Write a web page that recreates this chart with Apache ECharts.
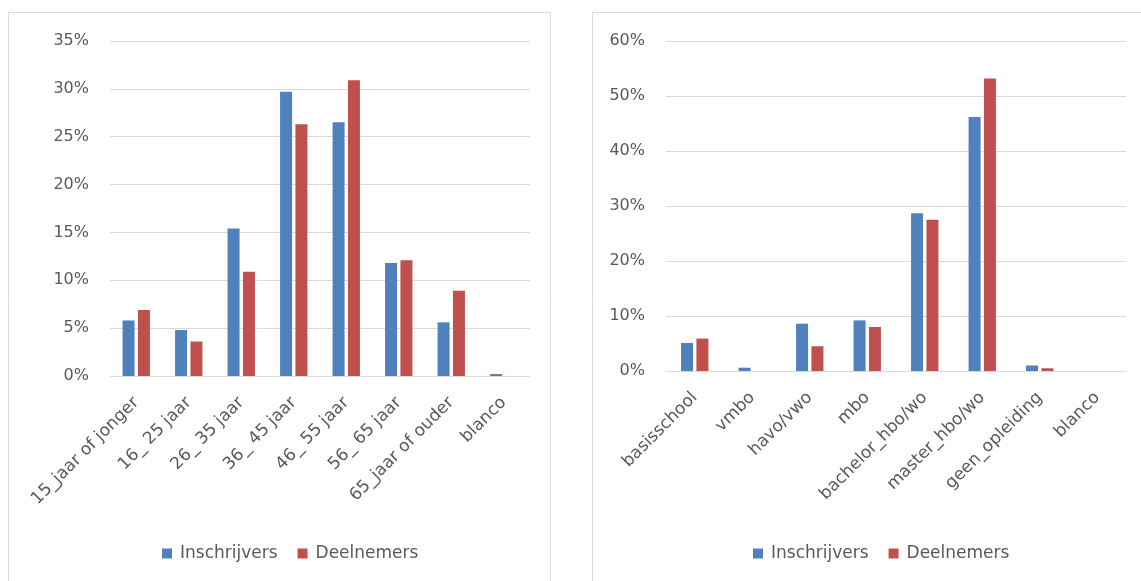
<!DOCTYPE html>
<html>
<head>
<meta charset="utf-8">
<script src="https://cdn.jsdelivr.net/npm/echarts@6/dist/echarts.min.js"></script>
<style>
html,body{margin:0;padding:0;background:#fff;}
#c{width:1141px;height:581px;}
</style>
</head>
<body>
<div id="c"></div>
<script>
// ---- data ----
const ageCategories = ['15_jaar of jonger','16_ 25 jaar','26_ 35 jaar','36_ 45 jaar','46_ 55 jaar','56_ 65 jaar','65_jaar of ouder','blanco'];
const ageInschrijvers = [5.8, 4.8, 15.4, 29.7, 26.5, 11.8, 5.6, 0.2];
const ageDeelnemers   = [6.9, 3.6, 10.9, 26.3, 30.9, 12.1, 8.9, 0];
const eduCategories = ['basisschool','vmbo','havo/vwo','mbo','bachelor_hbo/wo','master_hbo/wo','geen_opleiding','blanco'];
const eduInschrijvers = [5.1, 0.6, 8.6, 9.2, 28.7, 46.2, 1.0, 0];
const eduDeelnemers   = [5.9, 0, 4.5, 8.0, 27.5, 53.2, 0.5, 0];
const ageTicks = [0, 5, 10, 15, 20, 25, 30, 35];
const eduTicks = [0, 10, 20, 30, 40, 50, 60];
const seriesNames = ['Inschrijvers', 'Deelnemers'];

const BLUE = '#4F81BD', RED = '#C0504D';
const FONT = 'DejaVu Sans';
const TXT = '#595959';
const GRID = '#D9D9D9';

const chart = echarts.init(document.getElementById('c'), null, {renderer: 'canvas'});

function yAxis(gridIndex, ticks) {
  return {
    type: 'value', gridIndex: gridIndex,
    min: ticks[0], max: ticks[ticks.length - 1], interval: ticks[1] - ticks[0],
    axisLabel: {formatter: '{value}%', color: TXT, fontFamily: FONT, fontSize: 16, margin: 21},
    axisLine: {show: false}, axisTick: {show: false},
    splitLine: {lineStyle: {color: GRID, width: 1}}
  };
}
function xAxis(gridIndex, cats) {
  return {
    type: 'category', gridIndex: gridIndex, data: cats,
    axisLabel: {rotate: 45, color: TXT, fontFamily: FONT, fontSize: 17, margin: 24, interval: 0},
    axisLine: {lineStyle: {color: GRID}}, axisTick: {show: false}
  };
}
function bar(name, xi, data, color) {
  return {
    name: name, type: 'bar', xAxisIndex: xi, yAxisIndex: xi, data: data,
    barWidth: 12, barGap: '28%', itemStyle: {color: color}, animation: false
  };
}
function legend(left) {
  return {data: seriesNames, left: left, top: 540, icon: 'rect', itemWidth: 10, itemHeight: 10, itemGap: 20,
    textStyle: {color: TXT, fontFamily: FONT, fontSize: 17, padding: [0, 0, 0, 3]}};
}

chart.setOption({
  backgroundColor: '#fff',
  animation: false,
  graphic: [
    {type: 'rect', shape: {x: 8.5, y: 12.5, width: 542, height: 600}, style: {fill: 'none', stroke: GRID, lineWidth: 1}, silent: true, z: -10},
    {type: 'rect', shape: {x: 592.5, y: 12.5, width: 600, height: 600}, style: {fill: 'none', stroke: GRID, lineWidth: 1}, silent: true, z: -10}
  ],
  grid: [
    {left: 110, right: 611, top: 41, bottom: 205},
    {left: 666, right: 15, top: 41, bottom: 210}
  ],
  legend: [legend(157), legend(748)],
  xAxis: [xAxis(0, ageCategories), xAxis(1, eduCategories)],
  yAxis: [yAxis(0, ageTicks), yAxis(1, eduTicks)],
  series: [
    bar(seriesNames[0], 0, ageInschrijvers, BLUE),
    bar(seriesNames[1], 0, ageDeelnemers, RED),
    bar(seriesNames[0], 1, eduInschrijvers, BLUE),
    bar(seriesNames[1], 1, eduDeelnemers, RED)
  ]
});
</script>
</body>
</html>
